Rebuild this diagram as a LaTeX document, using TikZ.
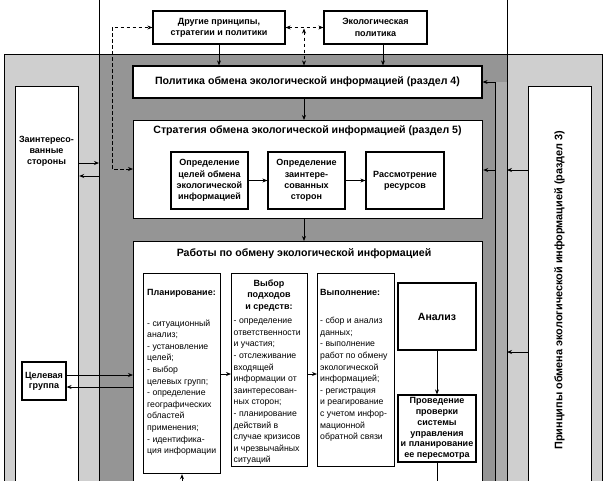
\documentclass[tikz,border=0pt]{standalone}
\usepackage{fontspec}
\setmainfont{Liberation Sans}
\usetikzlibrary{arrows.meta}
\definecolor{lgray}{HTML}{CFCFCF}
\definecolor{dgray}{HTML}{959595}
\definecolor{mgray}{HTML}{ACACAC}
\begin{document}
\begin{tikzpicture}[x=1pt,y=-1pt,
  box/.style={draw=black, line width=1.2pt, fill=white, inner sep=0pt, align=center,
    font=\bfseries\fontsize{9}{11.3}\selectfont},
  region/.style={draw=black, line width=0.9pt},
  arr/.style={line width=0.9pt, -{Stealth[length=5pt,width=4pt]}},
  plain/.style={line width=0.9pt},
  darr/.style={line width=0.9pt, dash pattern=on 3.5pt off 2.5pt,
    {Stealth[length=5pt,width=4pt]}-{Stealth[length=5pt,width=4pt]}},
  ttl/.style={inner sep=0pt, font=\bfseries\fontsize{10.6}{12.5}\selectfont},
  sttl/.style={inner sep=0pt, align=center, font=\bfseries\fontsize{9}{11.2}\selectfont},
  lst/.style={inner sep=0pt, align=left, anchor=north west, font=\fontsize{8.7}{11.6}\selectfont},
]
\useasboundingbox (0,0) rectangle (605,480);
\clip (0,0) rectangle (605,480);
\fill[white] (0,0) rectangle (605,480);
% regions
\draw[region, fill=white] (99,-10) rectangle (507,54);
\draw[region, fill=lgray] (4,54) rectangle (602,495);
\draw[region, fill=dgray] (99,54) rectangle (507,495);
\fill[mgray] (495,82) rectangle (507,495);
\draw[region] (507,54) -- (507,495);
% side panels
\node[box, anchor=north west, minimum width=63, minimum height=410] (zs) at (15,86) {};
\node[sttl] (zst) at (46.5,151) {Заинтересо-\\ванные\\стороны};
\node[box, anchor=north west, minimum width=63, minimum height=410] (pp) at (528,86) {};
\node[ttl, rotate=90, font=\bfseries\fontsize{10.9}{12.5}\selectfont] (ppt) at (559.5,290) {Принципы обмена экологической информацией (раздел 3)};
% top boxes
\node[box, minimum width=132, minimum height=33] (drug) at (219,27.5) {Другие принципы,\\стратегии и политики};
\node[box, minimum width=103, minimum height=33] (eko) at (375.5,27.5) {Экологическая\\политика};
% policy
\node[box, minimum width=349, minimum height=32, font=\bfseries\fontsize{10.6}{12.5}\selectfont] (pol) at (307.5,82) {Политика обмена экологической информацией (раздел 4)};
% strategy
\node[box, anchor=north west, minimum width=349, minimum height=98] (str) at (133,120) {};
\node[ttl] (strt) at (307.5,131) {Стратегия обмена экологической информацией (раздел 5)};
\node[box, minimum width=77, minimum height=57] (oa) at (209.5,180.5) {Определение\\целей обмена\\экологической\\информацией};
\node[box, minimum width=77, minimum height=57] (ob) at (306.5,180.5) {Определение\\заинтере-\\сованных\\сторон};
\node[box, minimum width=78, minimum height=57] (oc) at (405,180.5) {Рассмотрение\\ресурсов};
% works
\node[box, anchor=north west, minimum width=349, minimum height=260] (rab) at (133,241) {};
\node[ttl] (rabt) at (304,254) {Работы по обмену экологической информацией};
\node[box, anchor=north west, minimum width=77, minimum height=200] (plan) at (143,273) {};
\node[box, anchor=north west, minimum width=76, minimum height=193] (vyb) at (231,273) {};
\node[box, anchor=north west, minimum width=77, minimum height=193] (vyp) at (317,273) {};
\node[box, minimum width=78, minimum height=67, font=\bfseries\fontsize{10.5}{12}\selectfont] (an) at (437,316.5) {Анализ};
\node[box, minimum width=78, minimum height=67, font=\bfseries\fontsize{9}{10.8}\selectfont] (pr) at (437,428.5) {Проведение\\проверки\\системы\\управления\\и планирование\\ее пересмотра};
\node[box, minimum width=44, minimum height=38, font=\bfseries\fontsize{9}{10}\selectfont] (cel) at (44,381) {Целевая\\группа};
% column texts
\node[sttl, anchor=west] (plant) at (147,293) {Планирование:};
\node[lst] (planl) at (147,317.8) {\strut- ситуационный\\анализ;\\- установление\\целей;\\- выбор\\целевых групп;\\- определение\\географических\\областей\\применения;\\- идентифика-\\ция информации};
\node[sttl] (vybt) at (269,295.5) {Выбор\\подходов\\и средств:};
\node[lst] (vybl) at (233.5,315.3) {\strut- определение\\ответственности\\и участия;\\- отслеживание\\входящей\\информации от\\заинтересован-\\ных сторон;\\- планирование\\действий в\\случае кризисов\\и чрезвычайных\\ситуаций};
\node[sttl, anchor=west] (vypt) at (320,292) {Выполнение:};
\node[lst] (vypl) at (320,315.3) {\strut- сбор и анализ\\данных;\\- выполнение\\работ по обмену\\экологической\\информацией;\\- регистрация\\и реагирование\\с учетом инфор-\\мационной\\обратной связи};
% connectors
\coordinate (dl) at (112,169);
\draw[darr] (str.west |- dl) -- (dl) |- (drug.west);
\draw[darr] (drug.east) -- (eko.west);
\coordinate (dm) at (304,28.5);
\draw[darr] (dm) -- (dm |- pol.north);
\draw[arr] (drug.south) -- (drug.south |- pol.north);
\coordinate (ek) at (383,44);
\draw[arr] (eko.south -| ek) -- (ek |- pol.north);
\coordinate (cx) at (304,0);
\draw[arr] (pol.south -| cx) -- (str.north -| cx);
\draw[arr] (str.south -| cx) -- (rab.north -| cx);
\draw[arr] (oa) -- (ob);
\draw[arr] (ob) -- (oc);
\coordinate (gl1) at (99,163);
\coordinate (gl2) at (99,176);
\draw[arr] (zs.east |- gl1) -- (gl1);
\draw[arr] (gl2) -- (zs.east |- gl2);
\coordinate (c1) at (0,375);
\coordinate (c2) at (0,387);
\draw[arr] (cel.east |- c1) -- (rab.west |- c1);
\draw[arr] (rab.west |- c2) -- (cel.east |- c2);
\coordinate (p1) at (0,374);
\draw[arr] (plan.east |- p1) -- (vyb.west |- p1);
\draw[arr] (vyb.east |- p1) -- (vyp.west |- p1);
\draw[arr] (an) -- (pr);
\coordinate (prb) at (437,500);
\draw[plain] (pr.south) -- (prb);
\coordinate (plb) at (182,500);
\draw[arr] (plb) -- (plb |- plan.south);
\coordinate (r1) at (507,170);
\coordinate (r2) at (507,352);
\draw[arr] (pp.west |- r1) -- (r1);
\draw[arr] (pp.west |- r2) -- (r2);
\coordinate (fb) at (495,500);
\coordinate (fbs) at (495,170);
\draw[arr] (fb) |- (pol.east);
\draw[arr] (fbs) -- (str.east |- fbs);
\end{tikzpicture}
\end{document}
